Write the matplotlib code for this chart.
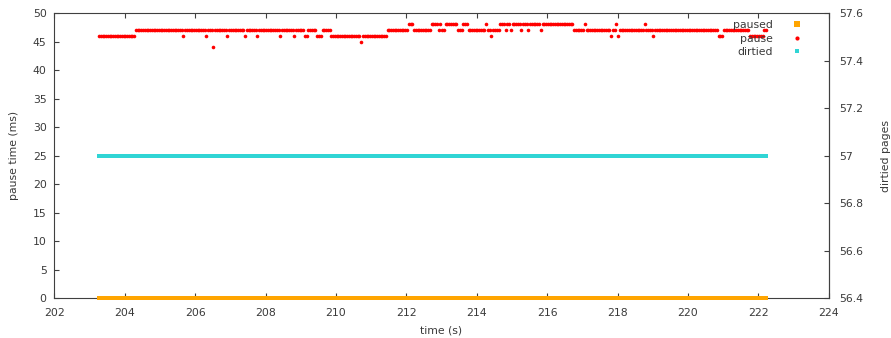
import numpy as np
import matplotlib.pyplot as plt
from matplotlib.ticker import MultipleLocator, FormatStrFormatter

plt.rcParams['font.family'] = ['DejaVu Sans']
plt.rcParams['font.size'] = 7.8
TXT = '#3a3a3a'
AXC = '#404040'

# sample clock of the trace
t_start = 203.27
t_step = 0.05

# pause time per sample, run-length encoded as (ms, number of samples)
pause_runs = [
    (46, 21), (47, 27), (46, 1), (47, 12), (46, 1), (47, 3), (44, 1), (47, 7),
    (46, 1), (47, 9), (46, 1), (47, 6), (46, 1), (47, 12), (46, 1), (47, 7),
    (46, 1), (47, 5), (46, 2), (47, 5), (46, 3), (47, 5), (46, 17), (45, 1),
    (46, 14), (47, 12), (48, 3), (47, 10), (48, 4), (47, 1), (48, 1), (47, 2),
    (48, 7), (47, 3), (48, 3), (47, 10), (48, 1), (47, 2), (46, 1), (47, 4),
    (48, 3), (47, 1), (48, 2), (47, 1), (48, 5), (47, 1), (48, 3), (47, 1),
    (48, 6), (47, 1), (48, 18), (47, 6), (48, 1), (47, 14), (46, 1), (47, 2),
    (48, 1), (46, 1), (47, 14), (48, 1), (47, 4), (46, 1), (47, 36), (46, 3),
    (47, 15), (46, 8), (47, 2),
]
# paused flag (left axis) and dirtied pages (right axis), same samples
paused_runs = [(0, 380)]
dirtied_runs = [(57, 380)]


def expand(runs):
    return np.concatenate([np.full(n, v, dtype=float) for v, n in runs])


pause = expand(pause_runs)
paused = expand(paused_runs)
dirtied = expand(dirtied_runs)
t = t_start + t_step * np.arange(len(pause))

fig = plt.figure(figsize=(8.91, 3.38), dpi=100)
ax = fig.add_axes([54.3 / 891, 39.7 / 338, 774.4 / 891, 285.3 / 338])
ax2 = ax.twinx()

h1, = ax.plot(t, paused, 's', color='#ffa500', ms=3.0, mew=0,
              clip_on=False, zorder=3, label='paused')
h2, = ax.plot(t, pause, 'o', color='#ff0000', ms=2.6, mew=0, label='pause')
h3, = ax2.plot(t, dirtied, 's', color='#30d5d5', ms=2.3, mew=0, label='dirtied')

ax.set_xlim(202, 224)
ax.set_ylim(0, 50)
ax2.set_ylim(56.4, 57.6)
ax.xaxis.set_major_locator(MultipleLocator(2))
ax.yaxis.set_major_locator(MultipleLocator(5))
ax2.yaxis.set_major_locator(MultipleLocator(0.2))
ax2.yaxis.set_major_formatter(FormatStrFormatter('%g'))

ax.tick_params(axis='x', direction='in', top=True, length=3.3, width=0.8,
               color=AXC, labelcolor=TXT, pad=7)
ax.tick_params(axis='y', direction='in', right=False, length=3.3, width=0.8,
               color=AXC, labelcolor=TXT, pad=5.5)
ax2.tick_params(axis='y', direction='in', length=3.3, width=0.8,
                color=AXC, labelcolor=TXT, pad=7.4)

for s in ax.spines.values():
    s.set_color(AXC)
    s.set_linewidth(0.8)
for name, s in ax2.spines.items():
    s.set_visible(name == 'right')
    s.set_color(AXC)
    s.set_linewidth(0.8)

ax.set_xlabel('time (s)', color=TXT)
ax.set_ylabel('pause time (ms)', color=TXT)
ax2.set_ylabel('dirtied pages', color=TXT)
ax.xaxis.set_label_coords(0.5, -0.095)
ax.yaxis.set_label_coords(-0.046, 0.5)
ax2.yaxis.set_label_coords(1.068, 0.5)

leg = ax2.legend([h1, h2, h3], ['paused', 'pause', 'dirtied'], loc='upper right',
                 bbox_to_anchor=(0.973, 0.975), markerfirst=False, frameon=False,
                 borderpad=0, borderaxespad=0, handlelength=2, handletextpad=1.2,
                 labelspacing=0.32, labelcolor=TXT)
leg.legend_handles[0].set_markersize(4.2)
leg.legend_handles[1].set_markersize(3.0)
leg.legend_handles[2].set_markersize(2.8)

fig.savefig('out.png', dpi=100)
